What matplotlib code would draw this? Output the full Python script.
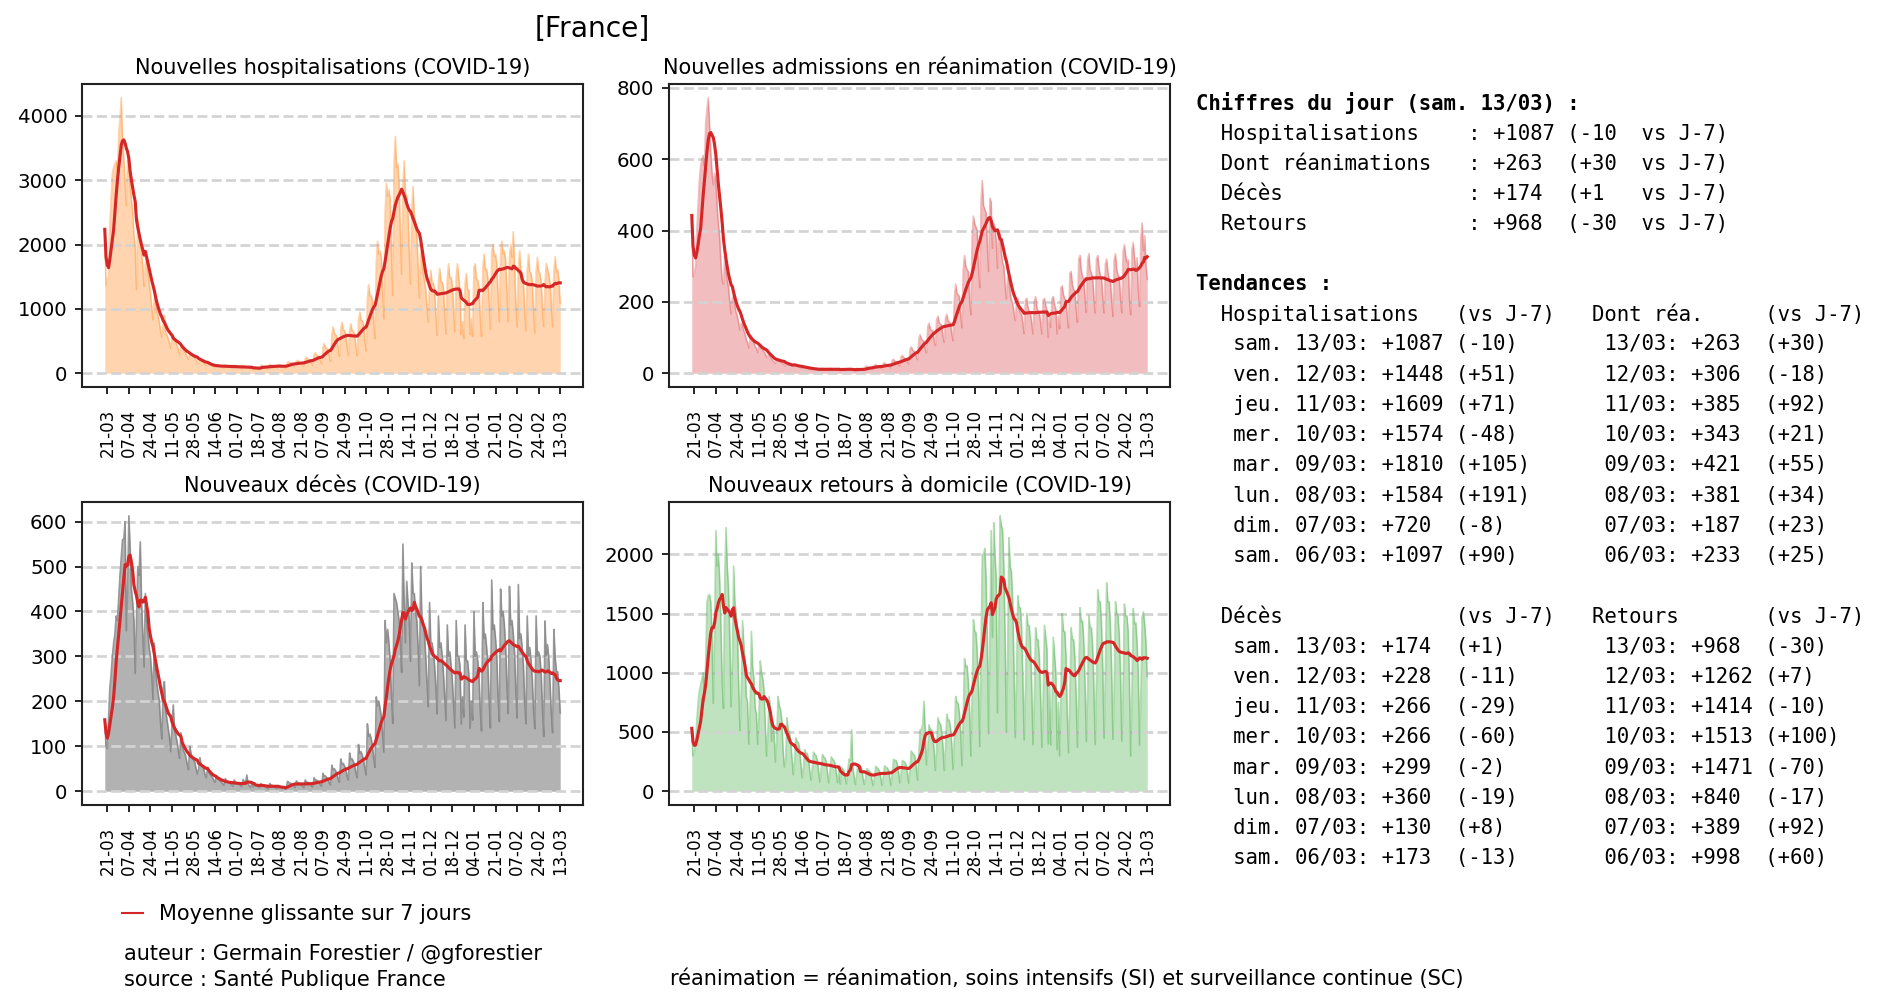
import matplotlib
matplotlib.use("Agg")
import matplotlib.pyplot as plt
from matplotlib.lines import Line2D
import pandas as pd

# daily values, 19/03/2020 (jeu.) -> 13/03/2021 (sam.), one row per week (lun. -> dim.)
hosp = [
    2236, 1364, 1440, 1520,
    2300, 2700, 3100, 3200, 3250, 3300, 3150,
    3700, 3950, 4280, 3650, 3350, 2950, 2600,
    3300, 3200, 2900, 2700, 2500, 2150, 1930,
    1300, 2400, 2200, 2050, 1900, 1650, 1350,
    1700, 1800, 1550, 1400, 1250, 1050, 830,
    1150, 1100, 950, 900, 800, 660, 560,
    760, 900, 650, 590, 540, 470, 390,
    580, 600, 520, 480, 430, 380, 286,
    420, 400, 370, 330, 300, 260, 216,
    310, 300, 280, 250, 240, 200, 170,
    160, 230, 200, 180, 170, 140, 124,
    150, 145, 130, 120, 115, 95, 85,
    135, 130, 115, 110, 105, 90, 78,
    130, 125, 110, 105, 100, 85, 73,
    125, 120, 105, 100, 95, 85, 70,
    120, 115, 100, 95, 90, 80, 65,
    100, 60, 95, 85, 80, 70, 56,
    125, 120, 105, 100, 95, 80, 68,
    135, 135, 115, 110, 105, 90, 80,
    135, 130, 115, 110, 105, 90, 78,
    170, 175, 160, 155, 150, 110, 102,
    190, 200, 175, 165, 160, 130, 107,
    230, 250, 215, 210, 200, 160, 121,
    290, 320, 280, 270, 255, 190, 145,
    400, 460, 400, 390, 370, 270, 188,
    600, 720, 620, 600, 560, 390, 262,
    680, 790, 680, 660, 610, 420, 276,
    670, 770, 660, 650, 600, 420, 269,
    800, 950, 820, 820, 760, 530, 346,
    1150, 1380, 1200, 1210, 1120, 790, 542,
    1700, 2050, 1850, 1900, 1800, 1250, 846,
    2500, 2950, 2750, 2850, 2700, 1900, 1206,
    3200, 3680, 3200, 3250, 2950, 2200, 1540,
    2900, 3300, 2800, 2750, 2550, 1900, 1384,
    2550, 2900, 2450, 2350, 2150, 1650, 1168,
    1850, 1950, 1550, 1450, 1300, 1050, 790,
    1400, 1600, 1400, 1400, 1300, 900, 589,
    1420, 1630, 1420, 1420, 1320, 920, 606,
    1480, 1700, 1480, 1490, 1380, 960, 645,
    1500, 1700, 1500, 1300, 600, 800, 538,
    1400, 1550, 1300, 1300, 600, 850, 574,
    1650, 1700, 1450, 1450, 1330, 880, 570,
    1620, 1850, 1600, 1620, 1470, 1100, 680,
    1900, 2000, 1820, 1850, 1700, 1250, 799,
    1850, 2050, 1850, 1900, 1750, 1300, 801,
    1800, 2000, 1800, 2200, 1700, 1100, 719,
    1650, 1900, 1600, 1550, 1400, 1000, 658,
    1600, 1850, 1580, 1550, 1420, 950, 626,
    1550, 1800, 1590, 1551, 1420, 1007, 728,
    1393, 1705, 1622, 1538, 1397, 1097, 720,
    1584, 1810, 1574, 1609, 1448, 1087,
]

rea = [
    442, 270, 280, 300,
    400, 470, 540, 580, 600, 610, 580,
    700, 740, 772, 700, 620, 560, 528,
    560, 540, 470, 420, 380, 310, 260,
    250, 330, 290, 260, 240, 200, 166,
    210, 220, 190, 170, 160, 140, 121,
    140, 135, 120, 110, 95, 85, 71,
    100, 105, 95, 85, 75, 70, 58,
    80, 80, 70, 65, 60, 55, 45,
    50, 50, 45, 40, 35, 32, 28,
    42, 40, 36, 33, 30, 27, 23,
    20, 30, 26, 24, 22, 20, 19,
    24, 23, 20, 19, 18, 15, 14,
    18, 17, 15, 14, 13, 11, 10,
    14, 13, 12, 11, 10, 9, 8,
    13, 14, 12, 11, 10, 9, 8,
    14, 13, 12, 11, 10, 9, 8,
    14, 8, 13, 12, 12, 10, 8,
    13, 12, 11, 10, 9, 8, 7,
    14, 13, 12, 11, 10, 9, 8,
    18, 20, 17, 16, 16, 13, 12,
    22, 24, 21, 20, 19, 14, 13,
    27, 29, 25, 24, 23, 18, 15,
    36, 39, 34, 32, 31, 25, 20,
    46, 50, 44, 42, 40, 32, 26,
    66, 74, 66, 62, 60, 47, 38,
    96, 108, 96, 92, 90, 70, 57,
    130, 140, 125, 120, 120, 92, 78,
    150, 160, 142, 138, 135, 105, 87,
    155, 165, 148, 143, 140, 110, 91,
    210, 250, 225, 220, 215, 160, 127,
    290, 330, 300, 290, 285, 210, 164,
    380, 440, 420, 410, 400, 300, 240,
    480, 540, 470, 460, 450, 360, 285,
    490, 480, 350, 420, 410, 370, 294,
    400, 390, 340, 310, 300, 250, 208,
    270, 265, 225, 205, 195, 170, 147,
    200, 210, 180, 170, 165, 140, 111,
    205, 210, 185, 172, 168, 140, 110,
    200, 215, 185, 175, 170, 142, 110,
    205, 210, 190, 175, 100, 160, 129,
    210, 215, 190, 180, 110, 160, 125,
    240, 245, 220, 210, 205, 160, 127,
    280, 285, 250, 235, 230, 180, 143,
    320, 330, 290, 270, 265, 210, 170,
    315, 335, 290, 280, 270, 210, 169,
    320, 330, 295, 275, 270, 210, 169,
    305, 320, 285, 265, 260, 205, 159,
    320, 335, 290, 275, 270, 210, 169,
    340, 360, 330, 310, 318, 208, 164,
    347, 366, 322, 293, 324, 233, 187,
    381, 421, 343, 385, 306, 263,
]

deces = [
    159, 100, 95, 162,
    230, 260, 300, 330, 350, 390, 380,
    430, 480, 520, 560, 560, 600, 357,
    450, 613, 540, 450, 420, 380, 262,
    380, 500, 480, 555, 420, 350, 276,
    440, 380, 350, 320, 300, 260, 204,
    330, 270, 240, 220, 200, 150, 116,
    230, 244, 180, 160, 140, 120, 88,
    150, 192, 135, 125, 110, 90, 73,
    130, 100, 90, 85, 75, 60, 48,
    100, 85, 75, 70, 65, 50, 38,
    50, 75, 60, 55, 50, 37, 30,
    50, 42, 38, 34, 30, 24, 20,
    35, 28, 26, 23, 20, 16, 13,
    28, 23, 21, 19, 17, 14, 11,
    25, 20, 19, 17, 15, 13, 10,
    26, 22, 20, 36, 16, 12, 8,
    20, 10, 16, 14, 13, 10, 8,
    17, 14, 13, 11, 10, 7, 5,
    17, 14, 13, 11, 10, 7, 5,
    13, 10, 9, 8, 7, 5, 4,
    22, 20, 18, 17, 15, 12, 8,
    23, 19, 19, 17, 15, 11, 8,
    25, 20, 20, 18, 16, 11, 9,
    30, 25, 25, 22, 20, 14, 11,
    40, 33, 34, 30, 27, 18, 14,
    58, 48, 50, 45, 39, 27, 20,
    72, 60, 62, 56, 48, 34, 25,
    85, 70, 72, 66, 57, 40, 30,
    104, 84, 88, 80, 69, 50, 36,
    150, 122, 127, 117, 101, 72, 53,
    210, 190, 200, 185, 165, 125, 87,
    380, 330, 360, 330, 290, 210, 151,
    440, 430, 420, 400, 380, 340, 264,
    550, 420, 330, 467, 420, 380, 289,
    508, 440, 440, 400, 380, 320, 235,
    500, 380, 380, 350, 300, 240, 188,
    420, 330, 330, 310, 280, 230, 172,
    390, 320, 330, 300, 260, 210, 157,
    370, 300, 310, 280, 245, 195, 141,
    380, 300, 300, 280, 150, 210, 165,
    370, 290, 290, 260, 140, 200, 158,
    400, 300, 310, 290, 255, 180, 134,
    420, 340, 350, 320, 280, 200, 141,
    470, 360, 370, 340, 300, 210, 155,
    450, 390, 400, 370, 320, 235, 173,
    456, 370, 380, 350, 310, 225, 163,
    460, 340, 350, 320, 280, 200, 150,
    390, 300, 320, 290, 250, 180, 139,
    390, 300, 310, 300, 261, 186, 122,
    379, 301, 326, 295, 239, 173, 130,
    360, 299, 266, 266, 228, 174,
]

retours = [
    531, 300, 330, 399,
    600, 750, 850, 900, 950, 1000, 760,
    1100, 1600, 1650, 1660, 1600, 1300, 743,
    1400, 2200, 1900, 2000, 1800, 1400, 927,
    700, 1800, 2226, 1900, 1700, 1300, 713,
    1100, 1900, 1600, 1500, 1350, 900, 512,
    850, 1440, 1250, 1100, 800, 750, 397,
    700, 1350, 1050, 950, 700, 650, 396,
    650, 1100, 1000, 950, 850, 550, 297,
    500, 800, 700, 420, 600, 450, 247,
    450, 800, 720, 690, 600, 350, 205,
    250, 620, 520, 500, 420, 280, 140,
    250, 450, 420, 410, 360, 230, 113,
    200, 350, 320, 320, 280, 180, 93,
    190, 330, 310, 300, 260, 170, 78,
    180, 310, 290, 280, 250, 160, 70,
    170, 290, 270, 260, 230, 150, 72,
    160, 60, 200, 190, 170, 110, 62,
    180, 270, 260, 517, 200, 120, 56,
    140, 230, 210, 210, 190, 110, 58,
    110, 190, 180, 170, 160, 95, 47,
    120, 210, 200, 190, 170, 110, 50,
    120, 215, 200, 200, 180, 120, 50,
    150, 270, 260, 260, 230, 160, 70,
    150, 260, 250, 245, 220, 150, 69,
    190, 340, 320, 310, 290, 200, 93,
    320, 520, 520, 560, 760, 520, 223,
    330, 560, 520, 520, 470, 350, 176,
    350, 620, 580, 570, 510, 380, 175,
    370, 650, 600, 600, 530, 390, 185,
    450, 800, 750, 740, 660, 500, 216,
    640, 1120, 1050, 1060, 930, 700, 296,
    800, 1450, 1350, 1340, 1180, 880, 378,
    1200, 2000, 2000, 2050, 1800, 1300, 486,
    1300, 2200, 1300, 2268, 2000, 1800, 661,
    1350, 2325, 2250, 2200, 1900, 1300, 498,
    1150, 2141, 1900, 1850, 1600, 1050, 452,
    950, 1650, 1550, 1550, 1380, 950, 433,
    850, 1500, 1400, 1400, 1250, 880, 392,
    780, 1380, 1280, 1280, 1130, 800, 371,
    800, 1400, 1300, 1200, 400, 900, 391,
    750, 1300, 1150, 1000, 350, 750, 300,
    850, 1500, 1350, 1350, 1150, 650, 325,
    780, 1380, 1280, 1280, 1130, 800, 371,
    880, 1550, 1430, 1440, 1270, 920, 420,
    840, 1480, 1380, 1380, 1220, 880, 394,
    970, 1700, 1600, 1600, 1400, 1040, 447,
    980, 1760, 1600, 1600, 1400, 1020, 439,
    900, 1600, 1500, 1480, 1320, 980, 424,
    880, 1580, 1480, 1480, 1353, 938, 297,
    857, 1541, 1413, 1424, 1255, 998, 389,
    840, 1471, 1513, 1414, 1262, 968,
]

titles = ["Nouvelles hospitalisations (COVID-19)",
          "Nouvelles admissions en réanimation (COVID-19)",
          "Nouveaux décès (COVID-19)",
          "Nouveaux retours à domicile (COVID-19)"]

# chiffres des 8 derniers jours (sam. 13/03 -> sam. 06/03) et écart vs J-7
jours = ["sam. 13/03", "ven. 12/03", "jeu. 11/03", "mer. 10/03",
         "mar. 09/03", "lun. 08/03", "dim. 07/03", "sam. 06/03"]
hosp_d = ["+1087", "+1448", "+1609", "+1574", "+1810", "+1584", "+720", "+1097"]
hosp_v = ["-10", "+51", "+71", "-48", "+105", "+191", "-8", "+90"]
rea_d = ["+263", "+306", "+385", "+343", "+421", "+381", "+187", "+233"]
rea_v = ["+30", "-18", "+92", "+21", "+55", "+34", "+23", "+25"]
deces_d = ["+174", "+228", "+266", "+266", "+299", "+360", "+130", "+173"]
deces_v = ["+1", "-11", "-29", "-60", "-2", "-19", "+8", "-13"]
ret_d = ["+968", "+1262", "+1414", "+1513", "+1471", "+840", "+389", "+998"]
ret_v = ["-30", "+7", "-10", "+100", "-70", "-17", "+92", "+60"]

dates = pd.date_range("2020-03-19", periods=len(hosp), freq="D")

W, H = 1884, 1005
fig = plt.figure(figsize=(W / 150, H / 150), dpi=150)

# axes boxes in pixels: left, top, right, bottom
boxes = [(82, 84, 583, 387), (669, 84, 1170, 387),
         (82, 502, 583, 805), (669, 502, 1170, 805)]
series = [hosp, rea, deces, retours]
fills = [("tab:orange", 0.33, "tab:orange", 0.35),
         ("tab:red", 0.3, "tab:red", 0.3),
         ("grey", 0.6, "grey", 0.8),
         ("tab:green", 0.3, "tab:green", 0.35)]

ticks = dates[2::17]
for i in range(4):
    l, t, r, b = boxes[i]
    ax = fig.add_axes([l / W, 1 - b / H, (r - l) / W, (b - t) / H])
    s = pd.Series(series[i], index=dates)
    fc, fa, lc, la = fills[i]
    ax.fill_between(dates, s.values, color=fc, alpha=fa, lw=0)
    ax.plot(dates, s.values, color=lc, alpha=la, lw=0.8)
    ax.plot(dates, s.rolling(7, min_periods=1).mean().values, color="tab:red", lw=1.5)
    ax.grid(axis="y", ls="--", lw=1.3, color="lightgray")
    ax.set_xticks(ticks)
    ax.set_xticklabels([d.strftime("%d-%m") for d in ticks], rotation=90, fontsize=8)
    ax.tick_params(axis="x", pad=7)
    ax.tick_params(axis="y", labelsize=9.5)
    ax.set_title(titles[i], fontsize=10, pad=4.8)
    for sp in ax.spines.values():
        sp.set_color("#222222")
        sp.set_linewidth(1.0)

fig.text(592 / W, 1 - 29 / H, "[France]", fontsize=13.5, ha="center", va="center")

# texte à droite
mono = "DejaVu Sans Mono"
fs = 9.93
x0 = 1196 / W
lines = [("Chiffres du jour (sam. 13/03) :", True)]
top = [("Hospitalisations", hosp_d[0], hosp_v[0]),
       ("Dont réanimations", rea_d[0], rea_v[0]),
       ("Décès", deces_d[0], deces_v[0]),
       ("Retours", ret_d[0], ret_v[0])]
for lab, v, dv in top:
    lines.append(("  " + lab.ljust(20) + ": " + v.ljust(6) + ("(" + dv).ljust(6) + "vs J-7)", False))
for i, (txt, bold) in enumerate(lines):
    fig.text(x0, 1 - (103.5 + 30.2 * i) / H, txt, family=mono, fontsize=fs,
             weight="bold" if bold else "normal", va="center")

tend = [("Tendances :", True),
        ("  Hospitalisations   (vs J-7)   Dont réa.     (vs J-7)", False)]
for k in range(8):
    tend.append(("   " + jours[k] + ": " + hosp_d[k].ljust(6) + ("(" + hosp_v[k] + ")").ljust(12)
                 + jours[k][5:] + ": " + rea_d[k].ljust(6) + "(" + rea_v[k] + ")", False))
tend.append(("", False))
tend.append(("  Décès              (vs J-7)   Retours       (vs J-7)", False))
for k in range(8):
    tend.append(("   " + jours[k] + ": " + deces_d[k].ljust(6) + ("(" + deces_v[k] + ")").ljust(12)
                 + jours[k][5:] + ": " + ret_d[k].ljust(6) + "(" + ret_v[k] + ")", False))
for i, (txt, bold) in enumerate(tend):
    fig.text(x0, 1 - (284 + 30.22 * i) / H, txt, family=mono, fontsize=fs,
             weight="bold" if bold else "normal", va="center")

# légende et sources
fig.legend(handles=[Line2D([0], [0], color="tab:red", lw=1)],
           labels=["Moyenne glissante sur 7 jours"], loc="center left",
           bbox_to_anchor=(103 / W, 1 - 914 / H), frameon=False,
           handlelength=1, fontsize=10)
fig.text(124 / W, 1 - 954 / H, "auteur : Germain Forestier / @gforestier", fontsize=10, va="center")
fig.text(124 / W, 1 - 979 / H, "source : Santé Publique France", fontsize=10, va="center")
fig.text(670 / W, 1 - 979 / H,
         "réanimation = réanimation, soins intensifs (SI) et surveillance continue (SC)",
         fontsize=10, va="center")

fig.savefig("out.png", dpi=150)
